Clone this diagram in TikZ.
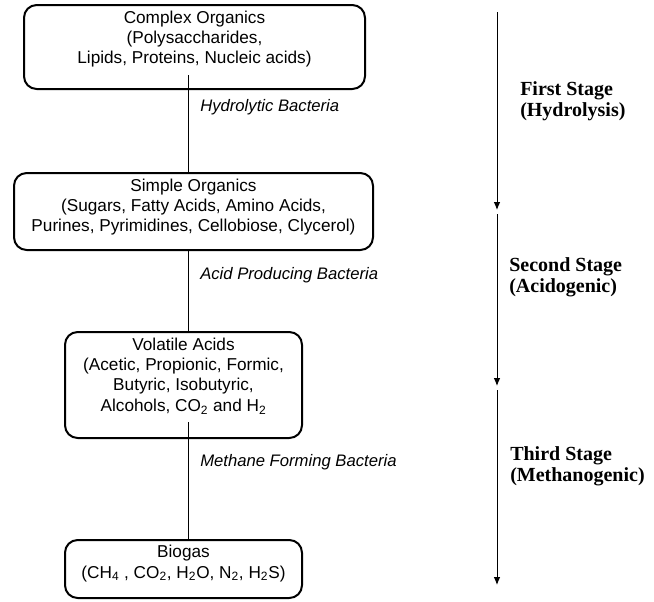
\documentclass[tikz,border=0pt]{standalone}
\usepackage{fontspec}
\setmainfont{Liberation Sans}
\newfontfamily\stageserif{Liberation Serif}
\usetikzlibrary{positioning}
\usetikzlibrary{arrows.meta}

\begin{document}
\begin{tikzpicture}[x=0.75pt, y=-0.75pt,
        organic/.style={draw, rounded corners=9.5pt, line width=1.5pt, inner sep=0pt},
        organictext/.style={align=center, inner sep=0pt, font=\fontsize{12.9}{15.2}\selectfont},
        bacteria/.style={anchor=west, inner sep=0pt, font=\fontsize{12.5}{15}\selectfont\itshape},
        stage/.style={anchor=west, align=left, inner sep=0pt, font=\fontsize{15}{15.8}\selectfont\stageserif\bfseries},
        stagearrow/.style={line width=0.75pt, -{Latex[length=6pt, width=5pt]}}]
            \useasboundingbox (0,0) rectangle (654,601);

            \node[organic, minimum width=255.75pt, minimum height=63pt] (complex) at (194.5,47) {};
            \node[organic, minimum width=269.25pt, minimum height=57.75pt] (simple) at (193.5,211.5) {};
            \node[organic, minimum width=177.75pt, minimum height=79.5pt] (volatile) at (183.5,385) {};
            \node[organic, minimum width=177.75pt, minimum height=43.5pt] (biogas) at (183.5,569) {};

            \node[organictext, below = 5pt of complex.north] (complextext) {Complex Organics\\(Polysaccharides,\\Lipids, Proteins, Nucleic acids)};
            \node[organictext, below = 5pt of simple.north] (simpletext) {Simple Organics\\(Sugars, Fatty Acids, Amino Acids,\\Purines, Pyrimidines, Cellobiose, Clycerol)};
            \node[organictext, below = 5pt of volatile.north] (volatiletext) {Volatile Acids\\(Acetic, Propionic, Formic,\\Butyric, Isobutyric,\\Alcohols, CO\textsubscript{2} and H\textsubscript{2}};
            \node[organictext, below = 4.5pt of biogas.north] (biogastext) {Biogas\\(CH\textsubscript{4} , CO\textsubscript{2}, H\textsubscript{2}O, N\textsubscript{2}, H\textsubscript{2}S)};

            \coordinate (hydro) at (188,75);
            \coordinate (acid) at (188,250);
            \coordinate (methane) at (188,422);
            \draw[line width=0.75pt] (hydro) -- (hydro |- simple.north);
            \draw[line width=0.75pt] (acid |- simple.south) -- (acid |- volatile.north);
            \draw[line width=0.75pt] (methane) -- (methane |- biogas.north);

            \node[bacteria] (hydrolytic) at (200,107) {Hydrolytic Bacteria};
            \node[bacteria] (producing) at (200,275) {Acid Producing Bacteria};
            \node[bacteria] (forming) at (200,462) {Methane Forming Bacteria};

            \node[stage] (first) at (520,101) {First Stage\\(Hydrolysis)};
            \node[stage] (second) at (509,277) {Second Stage\\(Acidogenic)};
            \node[stage] (third) at (510,466) {Third Stage\\(Methanogenic)};

            \coordinate (s0) at (497,12);
            \coordinate (s1) at (497,210);
            \coordinate (s2) at (497,214);
            \coordinate (s3) at (497,386);
            \coordinate (s4) at (497,390);
            \coordinate (s5) at (497,585);
            \draw[stagearrow] (s0) -- (s1);
            \draw[stagearrow] (s2) -- (s3);
            \draw[stagearrow] (s4) -- (s5);
        \end{tikzpicture}
\end{document}
